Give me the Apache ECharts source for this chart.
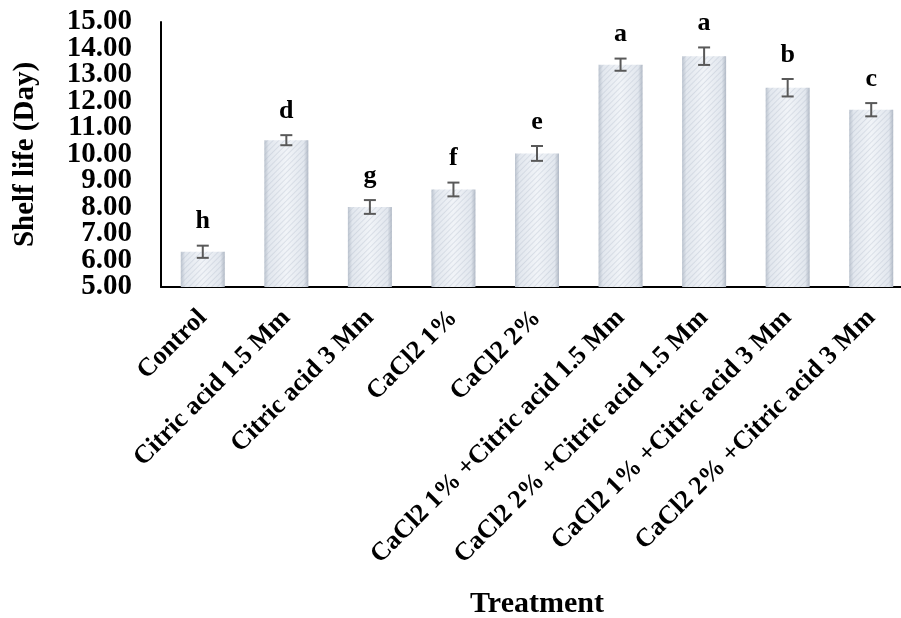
<!DOCTYPE html>
<html><head><meta charset="utf-8">
<script src="https://cdn.jsdelivr.net/npm/echarts@6/dist/echarts.min.js"></script>
<style>html,body{margin:0;padding:0;background:#fff}#c{width:901px;height:618px}</style>
</head><body><div id="c"></div>
<script>
const categories = ["Control","Citric acid 1.5 Mm","Citric acid 3 Mm","CaCl2 1%","CaCl2 2%","CaCl2 1% +Citric acid 1.5 Mm","CaCl2 2% +Citric acid 1.5 Mm","CaCl2 1% +Citric acid 3 Mm","CaCl2 2% +Citric acid 3 Mm"];
const shelfLife = [6.33, 10.54, 8.02, 8.68, 10.04, 13.39, 13.71, 12.52, 11.69];
const errors = [0.23, 0.19, 0.26, 0.26, 0.28, 0.23, 0.33, 0.33, 0.25];
const letters = ["h","d","g","f","e","a","a","b","c"];
const yTicks = ["5.00","6.00","7.00","8.00","9.00","10.00","11.00","12.00","13.00","14.00","15.00"];

const FONT = "'Liberation Serif','Times New Roman',serif";
const labelStyle = { fontFamily: FONT, fontWeight: 'bold', fontSize: 29, color: '#000' };
const yLabel = v => yTicks[Math.round(v - 5)];
const chart = echarts.init(document.getElementById('c'));
chart.setOption({
  animation: false,
  grid: { left: 161, top: 22, width: 752, height: 265, containLabel: false, outerBoundsMode: 'none' },
  xAxis: {
    type: 'category', data: categories,
    name: 'Treatment', nameLocation: 'middle', nameGap: 302, nameMoveOverlap: false,
    nameTextStyle: { fontFamily: FONT, fontWeight: 'bold', fontSize: 30, color: '#000' },
    axisLine: { lineStyle: { color: '#000', width: 2 } },
    axisTick: { show: false },
    axisLabel: { rotate: 45, margin: 27, interval: 0, hideOverlap: false, fontFamily: FONT, fontWeight: 'bold', fontSize: 26, color: '#000' }
  },
  yAxis: [
    {
      type: 'value', min: 5, max: 15, interval: 1,
      name: 'Shelf life (Day)', nameLocation: 'middle', nameGap: 121, nameRotate: 90, nameMoveOverlap: false,
      nameTextStyle: { fontFamily: FONT, fontWeight: 'bold', fontSize: 29, color: '#000' },
      axisLine: { show: true, lineStyle: { color: '#000', width: 2 } },
      axisTick: { show: false },
      splitLine: { show: false },
      axisLabel: Object.assign({ margin: 29, showMinLabel: false, showMaxLabel: false, hideOverlap: false, formatter: yLabel }, labelStyle)
    },
    {
      type: 'value', min: 5, max: 15, interval: 10, position: 'left',
      axisLine: { show: false }, axisTick: { show: false }, splitLine: { show: false },
      axisLabel: Object.assign({ margin: 29, showMinLabel: true, showMaxLabel: true, hideOverlap: false,
        formatter: v => (v === 5 || v === 15) ? yLabel(v) : '' }, labelStyle)
    }
  ],
  series: [
    {
      type: 'bar', data: shelfLife, barWidth: 44, yAxisIndex: 0,
      itemStyle: {
        color: new echarts.graphic.LinearGradient(0, 0, 1, 0, [
          { offset: 0, color: '#bcc4cf' },
          { offset: 0.1, color: '#e2e7ee' },
          { offset: 0.5, color: '#f1f4f8' },
          { offset: 0.9, color: '#e2e7ee' },
          { offset: 1, color: '#b2bac6' }
        ]),
        decal: { symbol: 'rect', dashArrayX: [1, 0], dashArrayY: [1, 3], rotation: -Math.PI / 4, color: 'rgba(170,180,195,0.3)', symbolSize: 1 }
      }
    },
    {
      type: 'custom', yAxisIndex: 0,
      data: shelfLife.map((v, i) => [i, v, errors[i]]),
      z: 10,
      renderItem: function (params, api) {
        const i = api.value(0), v = api.value(1), e = api.value(2);
        const hi = api.coord([i, v + e]);
        const lo = api.coord([i, v - e]);
        const w = 6;
        const st = { stroke: '#595959', lineWidth: 2 };
        return {
          type: 'group',
          children: [
            { type: 'line', shape: { x1: hi[0], y1: hi[1], x2: lo[0], y2: lo[1] }, style: st },
            { type: 'line', shape: { x1: hi[0] - w, y1: hi[1], x2: hi[0] + w, y2: hi[1] }, style: st },
            { type: 'line', shape: { x1: lo[0] - w, y1: lo[1], x2: lo[0] + w, y2: lo[1] }, style: st },
            { type: 'text', x: hi[0], y: hi[1] - 24,
              style: { text: letters[params.dataIndex], fill: '#000', font: "bold 26px " + FONT, align: 'center', verticalAlign: 'middle' } }
          ]
        };
      }
    }
  ]
});
</script></body></html>
